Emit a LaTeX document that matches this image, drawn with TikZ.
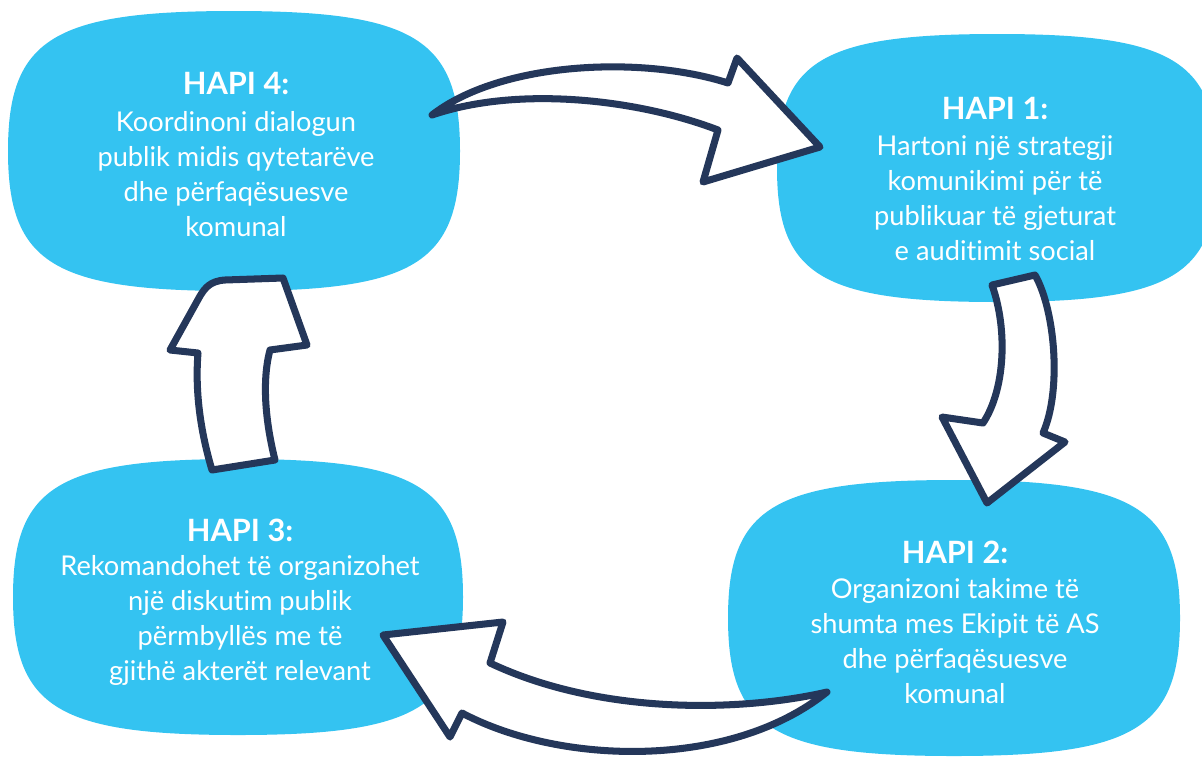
\documentclass[tikz,border=0pt]{standalone}
\usepackage{fontspec}
\setmainfont{Lato}[Ligatures=NoCommon]
\usepackage{tikz}
\usetikzlibrary{calc}
\definecolor{blobblue}{HTML}{34C3F1}
\definecolor{arrownavy}{HTML}{24375A}
\def\blob(#1,#2)(#3:#4)% Syntax: (centre x,centre y)(x radius:y radius), pixel units
{ \fill[blobblue] (#1+#3,#2) .. controls (#1+#3,#2+0.8*#4) and (#1+0.8*#3,#2+#4) .. (#1,#2+#4)
	.. controls (#1-0.8*#3,#2+#4) and (#1-#3,#2+0.8*#4) .. (#1-#3,#2)
	.. controls (#1-#3,#2-0.8*#4) and (#1-0.8*#3,#2-#4) .. (#1,#2-#4)
	.. controls (#1+0.8*#3,#2-#4) and (#1+#3,#2-0.8*#4) .. (#1+#3,#2) -- cycle; }
\tikzset{
	bigarrow/.style={draw=arrownavy, fill=white, line width=4pt, line join=round, line cap=round},
	steptitle/.style={text=white, font=\bfseries\fontsize{17.5}{20}\selectfont},
	steptext/.style={text=white, align=center, font=\fontsize{15.5}{19.9}\selectfont}
}

\begin{document}
\begin{tikzpicture}[x=0.02cm, y=-0.02cm]
	\useasboundingbox (0,0) rectangle (1202,758);
	\clip (0,0) rectangle (1202,758);
	
	%blobs
	\blob(234,151)(226:140)		%hapi 4
	\blob(997,168)(220:134)		%hapi 1
	\blob(238,597)(225:138)		%hapi 3
	\blob(954,618)(226:138)		%hapi 2
	
	%top arrow
	\draw[bigarrow] (432,115) .. controls (500,62) and (640,55) .. (728,83)
		-- (737,58) -- (820,147) -- (703,182) -- (718,130)
		.. controls (640,100) and (520,85) .. (432,115) -- cycle;
	%right arrow
	\draw[bigarrow] (992,285) -- (1035,275) .. controls (1055,310) and (1062,390) .. (1043,433)
		-- (1065,442) -- (987,503) -- (942,417) -- (983,423)
		.. controls (1005,390) and (1008,330) .. (992,285) -- cycle;
	%bottom arrow
	\draw[bigarrow] (827,692) .. controls (740,712) and (600,715) .. (490,663)
		-- (503,622) -- (383,635) -- (450,737) -- (462,713)
		.. controls (560,765) and (730,770) .. (827,692) -- cycle;
	%left arrow
	\draw[bigarrow] (212,470) -- (275,460) .. controls (265,420) and (262,380) .. (270,350)
		-- (307,345) -- (283,278) -- (225,280) .. controls (210,281) and (205,288) .. (200,296)
		-- (170,350) -- (198,353) .. controls (195,390) and (200,430) .. (212,470) -- cycle;
	
	%labels
	\node[steptitle] (title4) at (236,83) {HAPI 4:};
	\node[steptext] (text4) at (236,174) {Koordinoni dialogun\\publik midis qytetarëve\\dhe përfaqësuesve\\komunal};
	\node[steptitle] (title1) at (995,108) {HAPI 1:};
	\node[steptext] (text1) at (995,198) {Hartoni një strategji\\komunikimi për të\\publikuar të gjeturat\\e auditimit social};
	\node[steptitle] (title3) at (240,530) {HAPI 3:};
	\node[steptext] (text3) at (240,620) {Rekomandohet të organizohet\\një diskutim publik\\përmbyllës me të\\gjithë akterët relevant};
	\node[steptitle] (title2) at (955,552) {HAPI 2:};
	\node[steptext] (text2) at (955,641) {Organizoni takime të\\shumta mes Ekipit të AS\\dhe përfaqësuesve\\komunal};
\end{tikzpicture}
\end{document}
